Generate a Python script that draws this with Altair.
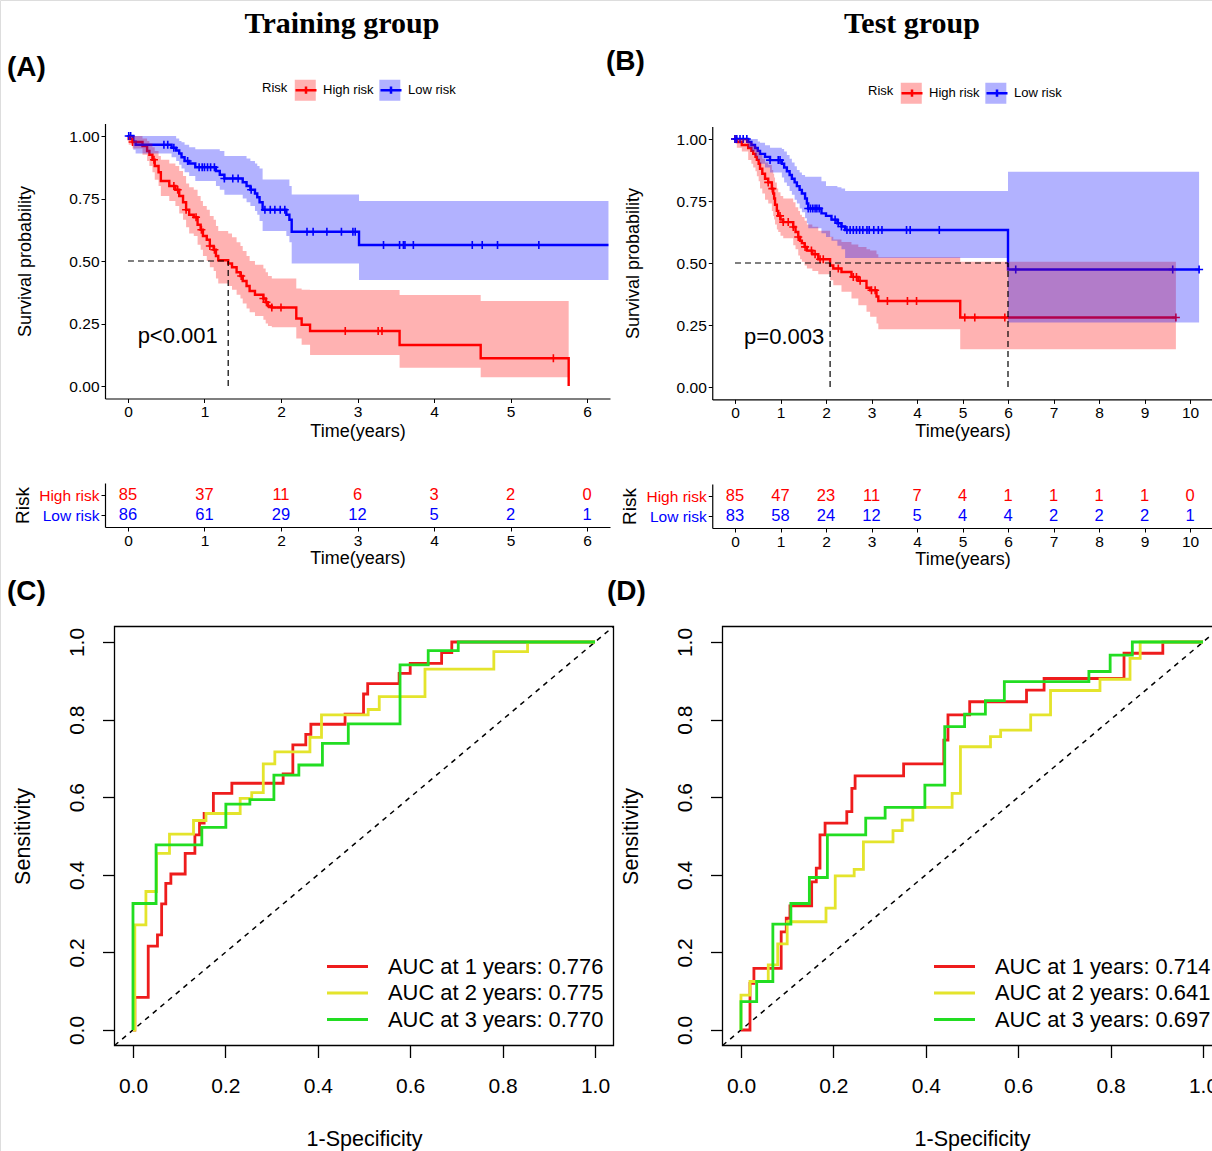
import altair as alt
import pandas as pd

# ======================= DATA =======================
GROUPS = ["High risk", "Low risk"]

# ---- Training group (A): Kaplan-Meier, high risk ----
train_high_t = [0, 0.01, 0.06, 0.19, 0.25, 0.28, 0.32, 0.35, 0.40, 0.43, 0.54, 0.62, 0.67, 0.72, 0.76, 0.80, 0.86, 0.91, 0.95, 0.98,
                1.03, 1.07, 1.12, 1.15, 1.18, 1.31, 1.36, 1.42, 1.47, 1.50, 1.55, 1.59, 1.66, 1.77, 1.80, 1.83, 1.88, 2.20, 2.27, 2.38,
                3.55, 4.61, 5.76]
train_high_s = [1.0, 0.988, 0.976, 0.96, 0.94, 0.925, 0.905, 0.88, 0.855, 0.82, 0.80, 0.785, 0.76, 0.735, 0.705, 0.685, 0.675, 0.645, 0.625, 0.60,
                0.585, 0.56, 0.545, 0.52, 0.503, 0.49, 0.475, 0.455, 0.44, 0.42, 0.40, 0.38, 0.365, 0.35, 0.335, 0.32, 0.314, 0.27, 0.245, 0.22,
                0.164, 0.111, 0.0]
train_high_lo = [1.0, 0.965, 0.95, 0.925, 0.90, 0.88, 0.855, 0.825, 0.80, 0.76, 0.74, 0.72, 0.69, 0.665, 0.635, 0.61, 0.60, 0.565, 0.545, 0.52,
                 0.50, 0.475, 0.46, 0.43, 0.41, 0.40, 0.385, 0.365, 0.35, 0.33, 0.31, 0.295, 0.28, 0.265, 0.25, 0.24, 0.235, 0.19, 0.165, 0.124,
                 0.073, 0.035, 0.035]
train_high_hi = [1.0, 1.0, 1.0, 0.99, 0.98, 0.97, 0.955, 0.94, 0.92, 0.905, 0.89, 0.88, 0.86, 0.84, 0.81, 0.795, 0.785, 0.76, 0.74, 0.72,
                 0.705, 0.68, 0.665, 0.64, 0.62, 0.61, 0.595, 0.575, 0.56, 0.54, 0.52, 0.50, 0.485, 0.47, 0.455, 0.44, 0.43, 0.39, 0.385, 0.384,
                 0.364, 0.34, 0.34]
train_high_cens = [0.06, 0.34, 0.60, 0.65, 0.76, 0.89, 0.96, 1.07, 1.13, 1.48, 1.77, 1.81, 1.88, 2.00, 2.84, 3.27, 3.32, 5.56]

# ---- Training group (A): Kaplan-Meier, low risk ----
train_low_t = [0, 0.07, 0.10, 0.57, 0.63, 0.67, 0.70, 0.74, 0.80, 0.88, 1.15, 1.20, 1.26, 1.50, 1.55, 1.60, 1.66, 1.69, 1.72, 1.76,
               2.07, 2.11, 2.14, 3.02, 6.28]
train_low_s = [1.0, 0.977, 0.965, 0.953, 0.942, 0.93, 0.915, 0.90, 0.89, 0.875, 0.86, 0.845, 0.83, 0.815, 0.80, 0.785, 0.77, 0.755, 0.735, 0.705,
               0.685, 0.665, 0.617, 0.564, 0.564]
train_low_lo = [1.0, 0.945, 0.93, 0.915, 0.90, 0.885, 0.87, 0.855, 0.84, 0.82, 0.80, 0.785, 0.765, 0.75, 0.735, 0.72, 0.70, 0.685, 0.66, 0.62,
                0.60, 0.575, 0.49, 0.424, 0.424]
train_low_hi = [1.0, 1.0, 1.0, 1.0, 0.99, 0.98, 0.975, 0.965, 0.955, 0.947, 0.947, 0.94, 0.92, 0.92, 0.91, 0.90, 0.89, 0.88, 0.87, 0.826,
                0.826, 0.80, 0.766, 0.74, 0.74]
train_low_cens = [0.01, 0.035, 0.47, 0.52, 0.60, 0.78, 0.93, 0.97, 1.00, 1.04, 1.08, 1.13, 1.26, 1.37, 1.44, 1.61, 1.79, 1.86, 1.92, 1.99,
                  2.05, 2.34, 2.42, 2.60, 2.79, 2.94, 2.97, 3.34, 3.55, 3.60, 3.62, 3.73, 4.50, 4.63, 4.83, 5.37]

# ---- Test group (B): Kaplan-Meier, high risk ----
test_high_t = [0, 0.04, 0.15, 0.29, 0.36, 0.40, 0.45, 0.48, 0.52, 0.55, 0.60, 0.66, 0.73, 0.81, 0.84, 0.86, 0.88, 0.92, 0.95, 1.00,
               1.06, 1.28, 1.33, 1.39, 1.43, 1.47, 1.53, 1.58, 1.70, 1.83, 2.09, 2.16, 2.34, 2.56, 2.71, 2.89, 2.97, 3.11, 3.15, 4.95,
               9.69]
test_high_s = [1.0, 0.988, 0.976, 0.964, 0.952, 0.94, 0.928, 0.916, 0.90, 0.88, 0.86, 0.84, 0.825, 0.80, 0.78, 0.76, 0.735, 0.71, 0.69, 0.675,
               0.665, 0.645, 0.625, 0.605, 0.59, 0.58, 0.565, 0.55, 0.535, 0.515, 0.49, 0.478, 0.464, 0.444, 0.428, 0.40, 0.39, 0.365, 0.347, 0.28,
               0.28]
test_high_lo = [1.0, 0.965, 0.95, 0.915, 0.90, 0.885, 0.87, 0.85, 0.83, 0.80, 0.78, 0.755, 0.74, 0.71, 0.69, 0.675, 0.655, 0.635, 0.625, 0.61,
                0.60, 0.572, 0.555, 0.53, 0.515, 0.505, 0.49, 0.478, 0.468, 0.455, 0.43, 0.41, 0.384, 0.357, 0.33, 0.303, 0.283, 0.256, 0.233, 0.152,
                0.152]
test_high_hi = [1.0, 1.0, 1.0, 0.99, 0.985, 0.975, 0.97, 0.96, 0.95, 0.935, 0.92, 0.905, 0.895, 0.875, 0.86, 0.845, 0.825, 0.80, 0.785, 0.77,
                0.76, 0.745, 0.725, 0.71, 0.695, 0.685, 0.67, 0.655, 0.646, 0.63, 0.606, 0.595, 0.585, 0.575, 0.565, 0.555, 0.55, 0.535, 0.523, 0.505,
                0.505]
test_high_cens = [0.0, 0.73, 0.82, 0.99, 1.06, 1.17, 1.28, 1.39, 1.54, 1.68, 1.76, 1.87, 1.94, 2.27, 2.60, 2.67, 2.75, 3.00, 3.08, 3.35,
                  3.79, 3.99, 5.05, 5.27, 5.93, 9.69]

# ---- Test group (B): Kaplan-Meier, low risk ----
test_low_t = [0, 0.29, 0.36, 0.44, 0.50, 0.55, 0.66, 0.77, 1.03, 1.08, 1.14, 1.20, 1.25, 1.31, 1.36, 1.42, 1.47, 1.54, 1.58, 1.61,
              1.90, 2.00, 2.12, 2.25, 2.34, 2.42, 6.00, 10.20]
test_low_s = [1.0, 0.988, 0.976, 0.964, 0.952, 0.94, 0.928, 0.915, 0.90, 0.885, 0.87, 0.855, 0.84, 0.825, 0.81, 0.795, 0.78, 0.76, 0.74, 0.72,
              0.70, 0.69, 0.675, 0.66, 0.647, 0.633, 0.474, 0.474]
test_low_lo = [1.0, 0.965, 0.95, 0.93, 0.915, 0.90, 0.885, 0.865, 0.845, 0.825, 0.81, 0.79, 0.775, 0.755, 0.74, 0.72, 0.705, 0.68, 0.66, 0.64,
               0.62, 0.605, 0.59, 0.57, 0.555, 0.52, 0.26, 0.26]
test_low_hi = [1.0, 1.0, 1.0, 1.0, 0.99, 0.985, 0.975, 0.965, 0.96, 0.95, 0.935, 0.92, 0.905, 0.89, 0.875, 0.865, 0.855, 0.848, 0.848, 0.848,
               0.83, 0.81, 0.81, 0.805, 0.80, 0.79, 0.868, 0.868]
test_low_cens = [0.0, 0.04, 0.11, 0.18, 0.26, 0.77, 0.95, 0.99, 1.61, 1.66, 1.71, 1.76, 1.80, 1.85, 2.20, 2.27, 2.34, 2.46, 2.53, 2.60,
                 2.67, 2.74, 2.81, 2.90, 2.95, 3.05, 3.15, 3.23, 3.77, 3.85, 4.49, 6.17, 9.62, 10.20]

# medians and p-values
train_medians = [1.31]
test_medians = [2.09, 6.00]
train_p = "p<0.001"
test_p = "p=0.003"

# ---- numbers at risk ----
train_risk_times = [0, 1, 2, 3, 4, 5, 6]
train_risk_high = [85, 37, 11, 6, 3, 2, 0]
train_risk_low = [86, 61, 29, 12, 5, 2, 1]
test_risk_times = [0, 1, 2, 3, 4, 5, 6, 7, 8, 9, 10]
test_risk_high = [85, 47, 23, 11, 7, 4, 1, 1, 1, 1, 0]
test_risk_low = [83, 58, 24, 12, 5, 4, 4, 2, 2, 2, 1]

# ---- ROC curves (x of each vertical riser, sensitivity reached there) ----
train_auc_labels = ["AUC at 1 years: 0.776", "AUC at 2 years: 0.775", "AUC at 3 years: 0.770"]
test_auc_labels = ["AUC at 1 years: 0.714", "AUC at 2 years: 0.641", "AUC at 3 years: 0.697"]

roc_train_1_fpr = [0.004, 0.033, 0.053, 0.062, 0.071, 0.082, 0.113, 0.134, 0.144, 0.154, 0.174, 0.214, 0.325, 0.346, 0.374, 0.385,
                   0.459, 0.499, 0.508, 0.576, 0.600, 0.668, 0.690]
roc_train_1_tpr = [0.084, 0.216, 0.245, 0.325, 0.378, 0.402, 0.455, 0.503, 0.533, 0.558, 0.610, 0.636, 0.660, 0.735, 0.762, 0.788,
                   0.814, 0.866, 0.893, 0.919, 0.945, 0.973, 1.0]
roc_train_2_fpr = [0.004, 0.028, 0.051, 0.079, 0.131, 0.158, 0.232, 0.257, 0.282, 0.307, 0.383, 0.408, 0.509, 0.533, 0.632, 0.781, 0.854]
roc_train_2_tpr = [0.271, 0.357, 0.455, 0.505, 0.540, 0.558, 0.597, 0.612, 0.686, 0.717, 0.754, 0.812, 0.826, 0.859, 0.930, 0.975, 1.0]
roc_train_3_fpr = [0.0, 0.050, 0.149, 0.201, 0.253, 0.305, 0.359, 0.410, 0.466, 0.578, 0.639, 0.704]
roc_train_3_tpr = [0.326, 0.477, 0.522, 0.582, 0.594, 0.657, 0.683, 0.739, 0.789, 0.941, 0.978, 1.0]

roc_test_1_fpr = [0.0195, 0.028, 0.087, 0.098, 0.106, 0.153, 0.163, 0.171, 0.182, 0.229, 0.240, 0.247, 0.352, 0.439, 0.448, 0.495,
                  0.618, 0.656, 0.829, 0.913]
roc_test_1_tpr = [0.120, 0.159, 0.253, 0.288, 0.320, 0.382, 0.417, 0.503, 0.533, 0.563, 0.623, 0.655, 0.686, 0.747, 0.812, 0.846,
                  0.876, 0.906, 0.971, 1.0]
roc_test_2_fpr = [0.0, 0.0195, 0.059, 0.0795, 0.100, 0.184, 0.204, 0.245, 0.265, 0.329, 0.349, 0.372, 0.457, 0.475, 0.540, 0.562,
                  0.627, 0.670, 0.777, 0.842, 0.864]
roc_test_2_tpr = [0.090, 0.125, 0.168, 0.222, 0.279, 0.314, 0.397, 0.414, 0.485, 0.514, 0.541, 0.574, 0.610, 0.730, 0.756, 0.773,
                  0.812, 0.875, 0.904, 0.958, 1.0]
roc_test_3_fpr = [0.0, 0.034, 0.069, 0.108, 0.148, 0.187, 0.270, 0.312, 0.398, 0.441, 0.484, 0.529, 0.570, 0.753, 0.799, 0.847]
roc_test_3_tpr = [0.073, 0.125, 0.273, 0.326, 0.393, 0.503, 0.546, 0.574, 0.631, 0.782, 0.814, 0.849, 0.898, 0.924, 0.966, 1.0]

# ======================= STYLE =======================
W, H = 1212, 1151
FONT = "Liberation Sans"
SERIF = "Liberation Serif"
RED, BLUE = "#FF0000", "#0000FF"
ROC_COLORS = ["#EE1C1C", "#E4E42C", "#22DD22"]
CROSS = "M-1,0H1M0,-1V1"
KEY = "M-1,0H1M0,-0.35V0.35"
SEG = "M-2.05,0H2.05"
LEG_FS = 13
LEG_TITLE_PAD = 6
LEG_COL_PAD = 1
RISK_TITLE_W = 1.944 * LEG_FS     # width of "Risk" in the legend font
HIGH_LABEL_W = 3.889 * LEG_FS     # width of "High risk" in the legend font


def ax(**kw):
    base = dict(grid=False, domainColor="black", tickColor="black", labelColor="black", titleColor="black",
                labelFont=FONT, titleFont=FONT, titleFontWeight="normal", labelFlush=False, labelOverlap=False)
    base.update(kw)
    return alt.Axis(**base)


def gscale():
    return alt.Scale(domain=GROUPS, range=[RED, BLUE])


def step_at(ts, ss, x):
    v = ss[0]
    for a, b in zip(ts, ss):
        if a <= x + 1e-9:
            v = b
        else:
            break
    return v


def km_frame(g, t, s, lo, hi):
    return pd.DataFrame({"group": g, "t": t, "s": s, "lo": lo, "hi": hi})


def cens_frame(g, t, s, cens):
    return pd.DataFrame({"group": g, "t": cens, "s": [step_at(t, s, c) for c in cens]})


def km_legends(x, y):
    line_leg = alt.Legend(
        orient="none", legendX=x, legendY=y, direction="horizontal", title="Risk",
        titleOrient="left", titleFont=FONT, titleFontSize=LEG_FS, titleFontWeight="normal", titleColor="black",
        titlePadding=LEG_TITLE_PAD, titleBaseline="middle", titleAnchor="middle",
        labelFont=FONT, labelFontSize=LEG_FS, labelColor="black", labelOffset=5, columnPadding=LEG_COL_PAD,
        symbolSize=441, symbolStrokeWidth=2.5, symbolType=KEY, symbolFillColor="transparent", padding=0)
    fill_leg = alt.Legend(
        orient="none", legendX=x + RISK_TITLE_W + LEG_TITLE_PAD, legendY=y, direction="horizontal", title=None,
        labelExpr="''", labelFont=FONT, labelFontSize=LEG_FS, labelOffset=5,
        columnPadding=LEG_COL_PAD + HIGH_LABEL_W,
        symbolSize=441, symbolStrokeWidth=2.5, symbolType="square", symbolOpacity=0.3,
        symbolStrokeColor="transparent", padding=0)
    return line_leg, fill_leg


def km_layers(hi_df, lo_df, ch, cl, medians, ptxt, ppos, xdom, xrng, yrng, xticks, xoff, yoff, legxy):
    xs = alt.Scale(domain=xdom, range=xrng, nice=False, zero=False)
    ys = alt.Scale(domain=[-0.05, 1.05], range=yrng, nice=False, zero=False)
    df = pd.concat([hi_df, lo_df], ignore_index=True)
    cdf = pd.concat([ch, cl], ignore_index=True)
    xa = ax(orient="bottom", offset=xoff, values=xticks, format="d", title="Time(years)",
            labelFontSize=15.5, titleFontSize=18, tickSize=4, tickWidth=1, domainWidth=1.2,
            labelPadding=2, titlePadding=2)
    ya = ax(orient="left", offset=yoff, values=[0, 0.25, 0.5, 0.75, 1.0], format=".2f",
            title="Survival probability", labelFontSize=15.5, titleFontSize=18, tickSize=4, tickWidth=1,
            domainWidth=1.2, labelPadding=2, titlePadding=34)
    line_leg, fill_leg = km_legends(*legxy)
    lines = alt.Chart(df).mark_line(interpolate="step-after", strokeWidth=2.4).encode(
        x=alt.X("t:Q", scale=xs, axis=xa),
        y=alt.Y("s:Q", scale=ys, axis=ya),
        stroke=alt.Stroke("group:N", scale=gscale(), legend=line_leg),
    )
    cens = alt.Chart(cdf).mark_point(shape=CROSS, filled=False, size=64, strokeWidth=1.6, opacity=1).encode(
        x=alt.X("t:Q", scale=xs, axis=None),
        y=alt.Y("s:Q", scale=ys, axis=None),
        stroke=alt.Stroke("group:N", scale=gscale(), legend=None),
    )
    bands = alt.Chart(df).mark_area(interpolate="step-after", opacity=0.3).encode(
        x=alt.X("t:Q", scale=xs, axis=None),
        y=alt.Y("lo:Q", scale=ys, axis=None),
        y2="hi:Q",
        fill=alt.Fill("group:N", scale=gscale(), legend=fill_leg),
    )
    mx = max(medians)
    mrows = [{"x": 0.0, "x2": mx, "y": 0.5, "y2": 0.5}] + [{"x": m, "x2": m, "y": 0.0, "y2": 0.5} for m in medians]
    med = alt.Chart(pd.DataFrame(mrows)).mark_rule(strokeDash=[6, 4], strokeWidth=1.2, color="black").encode(
        x=alt.X("x:Q", scale=xs, axis=None), x2="x2:Q",
        y=alt.Y("y:Q", scale=ys, axis=None), y2="y2:Q",
    )
    pt = alt.Chart(pd.DataFrame({"t": [ppos[0]], "s": [ppos[1]], "label": [ptxt]})).mark_text(
        font=FONT, fontSize=22, color="black", align="center", baseline="middle").encode(
        x=alt.X("t:Q", scale=xs, axis=None), y=alt.Y("s:Q", scale=ys, axis=None), text="label:N")
    return [lines, cens, bands, med, pt]


def risk_layer(times, high, low, xdom, xrng, yrng, xoff, yoff):
    df = pd.DataFrame({"group": ["High risk"] * len(times) + ["Low risk"] * len(times),
                       "t": list(times) + list(times), "n": list(high) + list(low)})
    xs = alt.Scale(domain=xdom, range=xrng, nice=False, zero=False)
    ys = alt.Scale(type="point", domain=GROUPS, range=yrng, padding=0.6)
    xa = ax(orient="bottom", offset=xoff, values=times, format="d", title="Time(years)",
            labelFontSize=15.5, titleFontSize=18, tickSize=4, tickWidth=1, domainWidth=1.2,
            labelPadding=2, titlePadding=1)
    ya = ax(orient="left", offset=yoff, title="Risk", labelFontSize=15.5, titleFontSize=19, tickSize=4,
            tickWidth=1, domainWidth=1.2, labelPadding=2, titlePadding=6,
            labelColor={"condition": {"test": "datum.value === 'High risk'", "value": RED}, "value": BLUE})
    return alt.Chart(df).mark_text(font=FONT, fontSize=16.5, baseline="middle").encode(
        x=alt.X("t:Q", scale=xs, axis=xa),
        y=alt.Y("group:N", scale=ys, axis=ya),
        text="n:Q",
        fill=alt.Fill("group:N", scale=gscale(), legend=None),
    )


def roc_path(fpr, tpr):
    pts = [(0.0, 0.0)]
    prev = 0.0
    for x, y in zip(fpr, tpr):
        pts.append((x, prev))
        pts.append((x, y))
        prev = y
    pts.append((1.0, prev))
    return pts


def roc_layers(curves, labels, xrng, yrng, xoff, yoff, legx, legy):
    xs = alt.Scale(domain=[-0.04, 1.04], range=xrng, nice=False, zero=False)
    ys = alt.Scale(domain=[-0.04, 1.04], range=yrng, nice=False, zero=False)
    rows = []
    for lab, (fpr, tpr) in zip(labels, curves):
        for i, (x, y) in enumerate(roc_path(fpr, tpr)):
            rows.append({"label": lab, "i": i, "fpr": x, "tpr": y})
    df = pd.DataFrame(rows)
    frame = pd.DataFrame({"x": [-0.04], "x2": [1.04], "y": [-0.04], "y2": [1.04]})
    ticks = [0, 0.2, 0.4, 0.6, 0.8, 1.0]
    xa = ax(orient="bottom", offset=xoff, values=ticks, format=".1f", title="1-Specificity", domain=False,
            labelFontSize=21, titleFontSize=21.5, tickSize=12, tickWidth=1.3, labelPadding=18, titlePadding=32)
    ya = ax(orient="left", offset=yoff, values=ticks, format=".1f", title="Sensitivity", domain=False,
            labelFontSize=21, titleFontSize=21.5, tickSize=12, tickWidth=1.3, labelPadding=15,
            labelAngle=270, labelAlign="center", labelBaseline="bottom", titlePadding=32)
    box = alt.Chart(frame).mark_rect(fillOpacity=0, stroke="black", strokeWidth=1.3).encode(
        x=alt.X("x:Q", scale=xs, axis=xa), x2="x2:Q",
        y=alt.Y("y:Q", scale=ys, axis=ya), y2="y2:Q",
    )
    diag = alt.Chart(frame).mark_rule(strokeDash=[5, 5], strokeWidth=1.5, color="black").encode(
        x=alt.X("x:Q", scale=xs, axis=None), x2="x2:Q",
        y=alt.Y("y:Q", scale=ys, axis=None), y2="y2:Q",
    )
    leg = alt.Legend(orient="none", legendX=legx, legendY=legy, direction="vertical", title=None,
                     symbolType=SEG, symbolSize=400, symbolStrokeWidth=3, symbolFillColor="transparent",
                     labelFont=FONT, labelFontSize=21.9, labelColor="black", labelOffset=29, labelLimit=500,
                     rowPadding=3.5, padding=0)
    lines = alt.Chart(df).mark_line(strokeWidth=2.8).encode(
        x=alt.X("fpr:Q", scale=xs, axis=None),
        y=alt.Y("tpr:Q", scale=ys, axis=None),
        order=alt.Order("i:Q"),
        stroke=alt.Stroke("label:N", scale=alt.Scale(domain=labels, range=ROC_COLORS), legend=leg),
    )
    return [box, diag, lines]


def text_layer(txt, x, y, size, font, weight="bold", align="left"):
    return alt.Chart(pd.DataFrame({"label": [txt]})).mark_text(
        font=font, fontSize=size, fontWeight=weight, align=align, baseline="middle", color="black").encode(
        x=alt.value(x), y=alt.value(y), text="label:N")


# ======================= BUILD =======================
A_XDOM, A_XRNG, A_YRNG = [-0.3, 6.3], [105.0, 610.0], [398.5, 123.5]
B_XDOM, B_XRNG, B_YRNG = [-0.5, 10.5], [712.25, 1212.75], [399.4, 126.6]

layers = []
layers += km_layers(
    km_frame("High risk", train_high_t, train_high_s, train_high_lo, train_high_hi),
    km_frame("Low risk", train_low_t, train_low_s, train_low_lo, train_low_hi),
    cens_frame("High risk", train_high_t, train_high_s, train_high_cens),
    cens_frame("Low risk", train_low_t, train_low_s, train_low_cens),
    train_medians, train_p, (0.65, 0.2), A_XDOM, A_XRNG, A_YRNG, train_risk_times,
    398.5 - H, -105.0, (262, 78))
layers += km_layers(
    km_frame("High risk", test_high_t, test_high_s, test_high_lo, test_high_hi),
    km_frame("Low risk", test_low_t, test_low_s, test_low_lo, test_low_hi),
    cens_frame("High risk", test_high_t, test_high_s, test_high_cens),
    cens_frame("Low risk", test_low_t, test_low_s, test_low_cens),
    test_medians, test_p, (1.08, 0.2), B_XDOM, B_XRNG, B_YRNG, test_risk_times,
    399.4 - H, -712.25, (868, 81))
layers.append(risk_layer(train_risk_times, train_risk_high, train_risk_low, A_XDOM, A_XRNG, [483, 527], 527 - H, -105.0))
layers.append(risk_layer(test_risk_times, test_risk_high, test_risk_low, B_XDOM, B_XRNG, [484, 528], 528 - H, -712.25))
layers += roc_layers(
    [(roc_train_1_fpr, roc_train_1_tpr), (roc_train_2_fpr, roc_train_2_tpr), (roc_train_3_fpr, roc_train_3_tpr)],
    train_auc_labels, [114.5, 613.5], [1045.5, 626.5], 1045.5 - H, -114.5, 336, 955)
layers += roc_layers(
    [(roc_test_1_fpr, roc_test_1_tpr), (roc_test_2_fpr, roc_test_2_tpr), (roc_test_3_fpr, roc_test_3_tpr)],
    test_auc_labels, [722.5, 1221.5], [1045.5, 626.5], 1045.5 - H, -722.5, 943, 955)

layers.append(text_layer("Training group", 342, 24, 30, SERIF, align="center"))
layers.append(text_layer("Test group", 912, 24, 30, SERIF, align="center"))
layers.append(text_layer("(A)", 7, 68, 28, FONT))
layers.append(text_layer("(B)", 606, 62, 28, FONT))
layers.append(text_layer("(C)", 7, 592, 28, FONT))
layers.append(text_layer("(D)", 607, 592, 28, FONT))

chart = alt.layer(*layers).properties(
    width=W, height=H, autosize=alt.AutoSizeParams(type="none"), padding=0
).resolve_scale(
    x="independent", y="independent", stroke="independent", fill="independent"
).configure_view(strokeWidth=0).configure(font=FONT)

chart.save("out.html", embed_options={"renderer": "svg", "actions": False})
